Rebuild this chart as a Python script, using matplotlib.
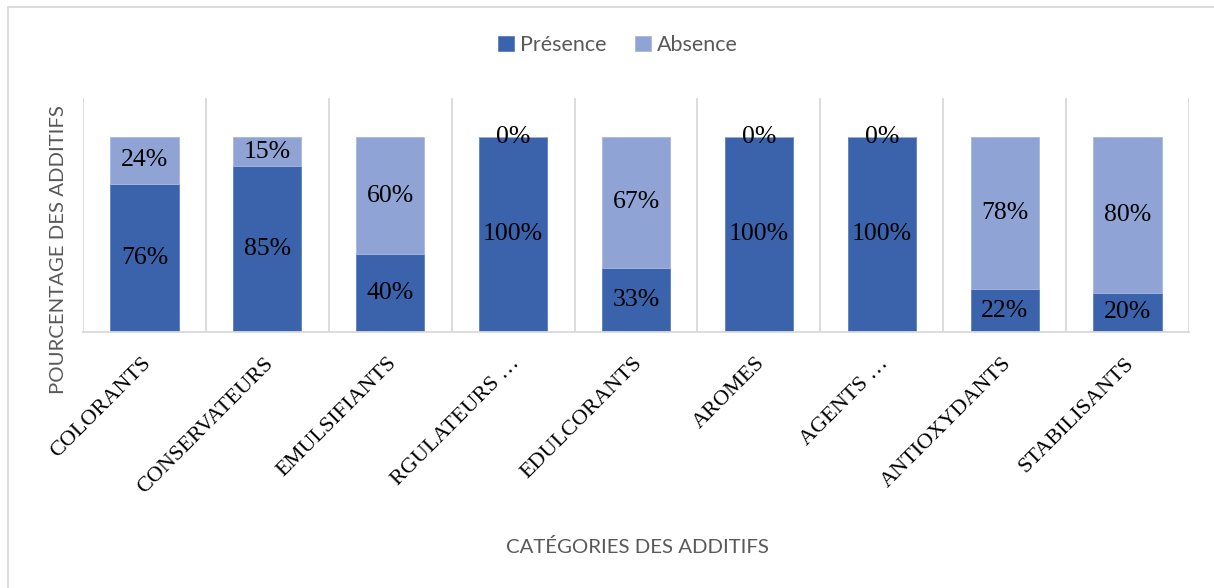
import numpy as np
import matplotlib.pyplot as plt
import matplotlib.patches as patches
from matplotlib.transforms import ScaledTranslation

categories = ['COLORANTS', 'CONSERVATEURS', 'EMULSIFIANTS', 'RGULATEURS …',
              'EDULCORANTS', 'AROMES', 'AGENTS …', 'ANTIOXYDANTS', 'STABILISANTS']
presence = [76, 85, 40, 100, 33, 100, 100, 22, 20]
absence = [24, 15, 60, 0, 67, 0, 0, 78, 80]

col_pres = '#3A63AC'
col_abs = '#8FA3D5'
gris = '#595959'

W, H = 1214, 588
fig = plt.figure(figsize=(W / 100, H / 100), dpi=100)
ax = fig.add_axes([83 / W, 1 - 332 / H, (1189 - 83) / W, (332 - 98) / H])

x = np.arange(len(categories))
pres = np.array(presence) / 100
absn = np.array(absence) / 100
b1 = ax.bar(x, pres, width=0.555, color=col_pres, edgecolor='#5B7FC0', linewidth=0.6, label='Présence', zorder=2)
b2 = ax.bar(x, absn, bottom=pres, width=0.555, color=col_abs, edgecolor='#A8B8DE', linewidth=0.6, label='Absence', zorder=2)

# etiquettes de donnees au centre des segments
for i in range(len(categories)):
    ax.text(x[i], pres[i] / 2, f'{presence[i]}%', ha='center', va='center',
            family='Liberation Serif', fontsize=18.5, color='black', zorder=3)
    ax.text(x[i], pres[i] + absn[i] / 2, f'{absence[i]}%', ha='center', va='center',
            family='Liberation Serif', fontsize=18.5, color='black', zorder=3)

ax.set_xlim(-0.5, len(categories) - 0.5)
ax.set_ylim(0, 1.2)
ax.set_yticks([])

# lignes verticales entre categories
for xv in np.arange(-0.5, len(categories), 1.0):
    ax.axvline(xv, color='#D9D9D9', lw=1.3, zorder=1)

for s in ['top', 'left', 'right']:
    ax.spines[s].set_visible(False)
ax.spines['bottom'].set_color('#D9D9D9')
ax.spines['bottom'].set_linewidth(1.3)

ax.set_xticks(x)
ax.set_xticklabels(categories, rotation=45, ha='right', rotation_mode='anchor',
                   family='Liberation Serif', fontsize=16, color='black')
ax.tick_params(axis='x', length=0, pad=0)
for lab in ax.get_xticklabels():
    lab.set_transform(lab.get_transform() + ScaledTranslation(-0.03, -0.22, fig.dpi_scale_trans))

fig.text(637 / W, 1 - 547 / H, 'CATÉGORIES DES ADDITIFS', ha='center', va='center',
         family='Lato', fontsize=14.7, color=gris)
fig.text(59 / W, 1 - 250 / H, 'POURCENTAGE DES ADDITIFS', ha='center', va='center',
         rotation=90, family='Lato', fontsize=14.7, color=gris)

leg = fig.legend(handles=[b1, b2], labels=['Présence', 'Absence'], loc='center',
                 bbox_to_anchor=(618 / W, 1 - 45 / H), ncol=2, frameon=False,
                 prop={'family': 'Lato', 'size': 15.5}, handlelength=0.75, handleheight=0.75,
                 handletextpad=0.3, columnspacing=1.3, labelcolor=gris)

# cadre du graphique
fig.patches.append(patches.Rectangle((8 / W, -0.05), 1.2, 1 - 7 / H + 0.05, transform=fig.transFigure,
                                     fill=False, edgecolor='#D9D9D9', lw=1.3))

fig.savefig('out.png', dpi=100)
